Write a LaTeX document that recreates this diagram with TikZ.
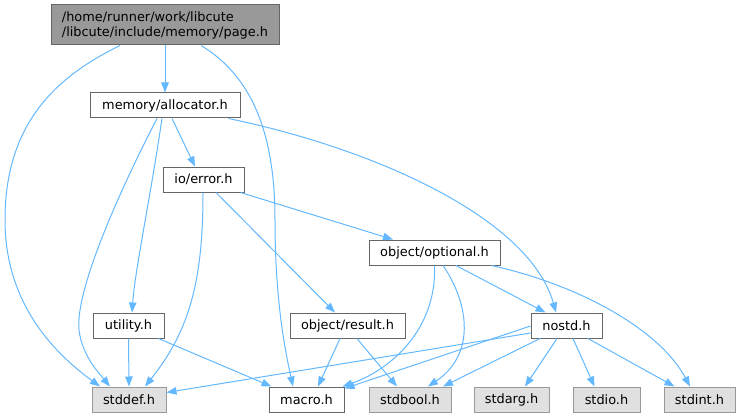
\documentclass[tikz,border=0pt]{standalone}
\usepackage{fontspec}
\setmainfont{DejaVu Sans}
\usetikzlibrary{arrows.meta}
\definecolor{edgeblue}{HTML}{63B8FF}
\definecolor{darkborder}{HTML}{666666}
\definecolor{lightborder}{HTML}{999999}
\definecolor{sysfill}{HTML}{E0E0E0}
\definecolor{mainfill}{HTML}{999999}
\begin{document}
\begin{tikzpicture}[x=1pt,y=-1pt,
  box/.style={draw=darkborder, fill=white, line width=1pt, minimum height=25pt, inner sep=0pt,
    font=\fontsize{12.9}{15}\selectfont, text=black},
  sysbox/.style={box, draw=lightborder, fill=sysfill},
  mainbox/.style={box, fill=mainfill, minimum height=40pt, align=left},
  edge/.style={draw=edgeblue, line width=1pt, -{Triangle[length=10pt,width=7.5pt]}, fill=none}
]
\useasboundingbox (0,0) rectangle (741,417);

\node[mainbox, minimum width=228pt] (page) at (165,25) {/home/runner/work/libcute\\/libcute/include/memory/page.h};
\node[box, minimum width=150pt] (alloc) at (165,105.5) {memory/allocator.h};
\node[box, minimum width=81pt] (error) at (203.5,179.5) {io/error.h};
\node[box, minimum width=131pt] (optional) at (434.5,252.5) {object/optional.h};
\node[box, minimum width=71pt] (utility) at (128.5,325.5) {utility.h};
\node[box, minimum width=115pt] (result) at (347.5,325.5) {object/result.h};
\node[box, minimum width=71pt] (nostd) at (566.5,325.5) {nostd.h};
\node[sysbox, minimum width=74pt] (stddef) at (129,399.5) {stddef.h};
\node[box, minimum width=75pt] (macro) at (306.5,399.5) {macro.h};
\node[sysbox, minimum width=82pt] (stdbool) at (410,399.5) {stdbool.h};
\node[sysbox, minimum width=75pt] (stdarg) at (511.5,399.5) {stdarg.h};
\node[sysbox, minimum width=67pt] (stdio) at (606.5,399.5) {stdio.h};
\node[sysbox, minimum width=71pt] (stdint) at (699.5,399.5) {stdint.h};

% page.h
\draw[edge] (page.south) -- (alloc.north);
\draw[edge] ([xshift=-45]page.south) .. controls (60,75) and (5,120) .. (5,220)
  .. controls (5,300) and (50,350) .. ([xshift=-29]stddef.north);
\draw[edge] ([xshift=36]page.south) .. controls (250,75) and (275,130) .. (275,220)
  .. controls (275,300) and (285,350) .. ([xshift=-13.5]macro.north);

% allocator
\draw[edge] ([xshift=7]alloc.south) -- ([xshift=-8.5]error.north);
\draw[edge] ([xshift=-3]alloc.south) .. controls (150,200) and (135,270) .. ([xshift=3.5]utility.north);
\draw[edge] ([xshift=-8]alloc.south) .. controls (120,190) and (75,290) .. (79,330)
  .. controls (82,355) and (98,372) .. ([xshift=-19]stddef.north);
\draw[edge] ([xshift=-12]alloc.south east) .. controls (380,150) and (530,220) .. ([xshift=-10.5]nostd.north);

% error
\draw[edge] ([xshift=-0.5]error.south) .. controls (203,280) and (190,330) .. ([xshift=16]stddef.north);
\draw[edge] ([xshift=12.5]error.south) -- ([xshift=-12.5]result.north);
\draw[edge] ([xshift=-4]error.south east) -- ([xshift=-41.5]optional.north);

% optional
\draw[edge] (optional.south) .. controls (437,330) and (390,370) .. ([xshift=-2]macro.north east);
\draw[edge] ([xshift=8.5]optional.south) .. controls (470,305) and (475,355) .. ([xshift=18]stdbool.north);
\draw[edge] ([xshift=21.5]optional.south) -- ([xshift=-21]nostd.north);
\draw[edge] ([xshift=57]optional.south) .. controls (580,285) and (660,330) .. ([xshift=-9.5]stdint.north);

% result
\draw[edge] ([xshift=-7.5]result.south) -- ([xshift=11.5]macro.north);
\draw[edge] ([xshift=9.5]result.south) -- ([xshift=-13]stdbool.north);

% utility
\draw[edge] (utility.south) -- (stddef.north);
\draw[edge] ([xshift=-6]utility.south east) -- ([xshift=-35]macro.north);

% nostd
\draw[edge] ([yshift=-7.5]nostd.west) -- ([yshift=7]stddef.east);
\draw[edge] ([yshift=-0.5]nostd.west) -- ([yshift=-2]macro.north east);
\draw[edge] ([xshift=-26.5]nostd.south) -- ([xshift=33]stdbool.north);
\draw[edge] ([xshift=-9.5]nostd.south) -- ([xshift=13.5]stdarg.north);
\draw[edge] ([xshift=6.5]nostd.south) -- ([xshift=-12]stdio.north);
\draw[edge] ([xshift=21.5]nostd.south) -- ([xshift=-25]stdint.north);
\end{tikzpicture}
\end{document}
